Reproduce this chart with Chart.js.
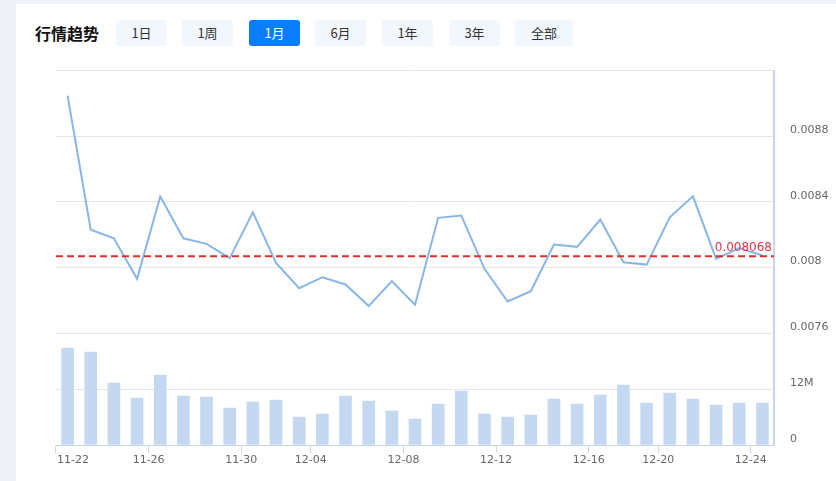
<!DOCTYPE html>
<html>
<head>
<meta charset="utf-8">
<script src="https://cdn.jsdelivr.net/npm/chart.js@4/dist/chart.umd.min.js"></script>
<style>
  html, body { margin: 0; padding: 0; }
  body { width: 836px; height: 481px; background: #eef1f5; position: relative; overflow: hidden; font-family: "Noto Sans CJK SC", "Noto Sans", sans-serif; }
  .card { position: absolute; left: 16px; top: 4px; right: 0; bottom: 0; background: #ffffff; }
  .title { position: absolute; left: 35px; top: 21px; height: 24px; line-height: 24px; font-size: 16px; font-weight: bold; color: #111; }
  .btn { position: absolute; top: 20px; height: 26px; line-height: 26px; width: 51px; text-align: center; font-size: 13px; color: #333; background: #f1f7fd; border-radius: 3px; }
  .btn.active { background: #0a7cff; color: #fff; }
  #wrap { position: absolute; left: 16px; top: 48px; width: 820px; height: 433px; }
</style>
</head>
<body>
<div class="card"></div>
<div class="title">行情趋势</div>
<div class="btn" style="left:116px">1日</div>
<div class="btn" style="left:182px">1周</div>
<div class="btn active" style="left:249px">1月</div>
<div class="btn" style="left:315px">6月</div>
<div class="btn" style="left:382px">1年</div>
<div class="btn" style="left:449px">3年</div>
<div class="btn" style="left:515px;width:58px">全部</div>
<div id="wrap"><canvas id="c" width="820" height="433"></canvas></div>
<script>
const dates = ['11-22','11-23','11-24','11-25','11-26','11-27','11-28','11-29','11-30',
  '12-01','12-02','12-04','12-05','12-06','12-07','12-08','12-09','12-10','12-11','12-12',
  '12-13','12-14','12-15','12-16','12-17','12-18','12-20','12-21','12-22','12-23','12-24'];
const shownDates = ['11-22','11-26','11-30','12-04','12-08','12-12','12-16','12-20','12-24'];
const prices = [0.009047, 0.008230, 0.008178, 0.007931, 0.008432, 0.008178, 0.008144, 0.008057,
  0.008337, 0.008028, 0.007874, 0.007941, 0.007897, 0.007765, 0.007917, 0.007773,
  0.008303, 0.008317, 0.007992, 0.007793, 0.007856, 0.008140, 0.008126, 0.008292,
  0.008032, 0.008018, 0.008306, 0.008434, 0.008053, 0.008118, 0.008073];
const volumes = [20.79e6, 19.93e6, 13.29e6, 10.07e6, 15.0e6, 10.5e6, 10.29e6, 7.93e6,
  9.21e6, 9.64e6, 6.0e6, 6.64e6, 10.5e6, 9.43e6, 7.29e6, 5.57e6,
  8.79e6, 11.57e6, 6.64e6, 6.0e6, 6.43e6, 9.86e6, 8.79e6, 10.71e6,
  12.86e6, 9.0e6, 11.14e6, 9.86e6, 8.57e6, 9.0e6, 9.0e6];
const avgPrice = 0.008068;

const axisColor = '#c9d6ec';
const gridColor = '#e6e6e6';
const tickFont = { family: 'DejaVu Sans', size: 11 };

const avgLinePlugin = {
  id: 'avgLine',
  afterDatasetsDraw(chart) {
    const { ctx, chartArea, scales } = chart;
    const y = scales.yP.getPixelForValue(avgPrice);
    ctx.save();
    ctx.strokeStyle = '#d9312f';
    ctx.lineWidth = 2;
    ctx.setLineDash([7, 4]);
    ctx.beginPath();
    ctx.moveTo(chartArea.left, y);
    ctx.lineTo(chartArea.right, y);
    ctx.stroke();
    ctx.setLineDash([]);
    ctx.fillStyle = '#e2354a';
    ctx.font = '12px "DejaVu Sans"';
    ctx.textAlign = 'right';
    ctx.textBaseline = 'bottom';
    ctx.fillText(String(avgPrice), chartArea.right - 2, y - 2);
    ctx.restore();
  },
  afterDraw(chart) {
    // first date label is drawn left-aligned at the start of the x scale (so it is not clipped)
    const { ctx, scales } = chart;
    const xs = scales.x;
    ctx.save();
    ctx.fillStyle = '#666';
    ctx.font = '11px "DejaVu Sans"';
    ctx.textAlign = 'left';
    ctx.textBaseline = 'middle';
    ctx.fillText(dates[0], xs.left + 1, xs.top + 15.6);
    ctx.restore();
  }
};

new Chart(document.getElementById('c'), {
  type: 'bar',
  data: {
    labels: dates,
    datasets: [
      {
        type: 'line',
        data: prices,
        yAxisID: 'yP',
        borderColor: '#8ab6e6',
        borderWidth: 2,
        pointRadius: 0,
        tension: 0,
        fill: false
      },
      {
        type: 'bar',
        data: volumes,
        yAxisID: 'yV',
        backgroundColor: '#c4d9f1',
        barThickness: 12
      }
    ]
  },
  options: {
    responsive: false,
    animation: false,
    events: [],
    layout: { padding: { left: 40, top: 10, right: 0, bottom: 0 } },
    plugins: { legend: { display: false }, tooltip: { enabled: false } },
    scales: {
      x: {
        offset: true,
        afterFit(s) { s.height = 36; },
        grid: {
          offset: true,
          drawOnChartArea: false,
          drawTicks: true,
          tickLength: 8,
          tickColor: ctx => (ctx.index < dates.length && shownDates.includes(dates[ctx.index])) ? axisColor : 'rgba(0,0,0,0)'
        },
        border: { display: true, color: axisColor, width: 1 },
        ticks: {
          autoSkip: false,
          maxRotation: 0,
          minRotation: 0,
          padding: 1,
          labelOffset: -11.6,
          color: '#666',
          font: tickFont,
          callback: (v, i) => (i > 0 && shownDates.includes(dates[i])) ? dates[i] : ''
        }
      },
      yP: {
        type: 'linear',
        position: 'right',
        stack: 'main',
        stackWeight: 263,
        min: 0.0076,
        max: 0.0092,
        afterFit(s) { s.width = 62; },
        grid: { color: gridColor, drawTicks: false },
        border: { display: true, color: axisColor, width: 2 },
        ticks: {
          stepSize: 0.0004,
          padding: 16,
          labelOffset: -6,
          color: '#666',
          font: tickFont,
          callback: v => (Math.abs(v - 0.0092) < 1e-9) ? '' : String(parseFloat(v.toFixed(4)))
        }
      },
      yV: {
        type: 'linear',
        position: 'right',
        stack: 'main',
        stackWeight: 112,
        min: 0,
        max: 24e6,
        afterFit(s) { s.width = 62; },
        grid: { color: gridColor, drawTicks: false },
        border: { display: true, color: axisColor, width: 2 },
        ticks: {
          stepSize: 12e6,
          padding: 16,
          labelOffset: -6,
          color: '#666',
          font: tickFont,
          callback: v => v === 0 ? '0' : (v >= 24e6 ? '' : (v / 1e6) + 'M')
        }
      }
    }
  },
  plugins: [avgLinePlugin]
});
</script>
</body>
</html>
